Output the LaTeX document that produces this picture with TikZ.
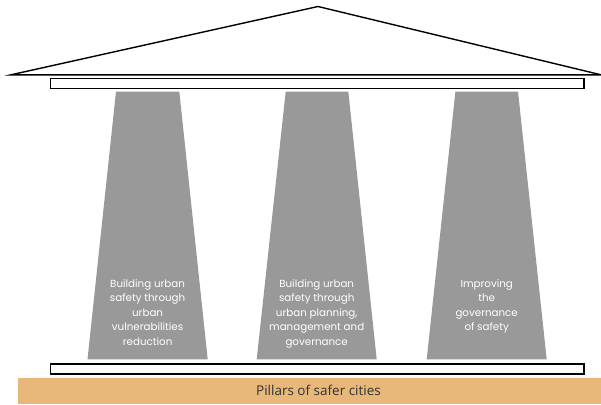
\documentclass[tikz,border=0pt]{standalone}
\usepackage{fontspec}
\setmainfont{Open Sans}
\newfontfamily\pillarfont{Poppins}
\definecolor{pillargray}{RGB}{153,153,153}
\definecolor{baseorange}{RGB}{232,184,122}
\begin{document}
\begin{tikzpicture}[x=1pt,y=-1pt,
  roofline/.style={draw=black,line width=1.4pt,line join=miter},
  beam/.style={draw=black,fill=white,line width=1.4pt},
  pillar/.style={fill=pillargray},
  pillartext/.style={text=white,align=center,anchor=north,inner sep=0pt,font=\pillarfont\fontsize{10.3}{14.5}\selectfont},
  bandtext/.style={text=black!80,anchor=base,inner sep=0pt,font=\fontsize{13.5}{15}\selectfont}]
\useasboundingbox (0,0) rectangle (601,404);
% roof
\coordinate (apex) at (318,6.5);
\coordinate (roofL) at (11,74.8);
\coordinate (roofR) at (601,74.8);
\draw[roofline] (roofL) -- (apex) -- (roofR) -- cycle;
% top beam
\draw[beam] (50.5,78.2) rectangle (584,88.3);
% pillars
\fill[pillar] (116,91.5) -- (179.3,91.5) -- (207.7,359.3) -- (87.5,359.3) -- cycle;
\fill[pillar] (285.7,91.5) -- (348.3,91.5) -- (376.7,359.3) -- (256.7,359.3) -- cycle;
\fill[pillar] (455.4,91.5) -- (518,91.5) -- (546.7,359.3) -- (426.7,359.3) -- cycle;
\node[pillartext] (p1) at (147.6,279) {Building urban\\safety through\\urban\\vulnerabilities\\reduction};
\node[pillartext] (p2) at (316.7,279) {Building urban\\safety through\\urban planning,\\management and\\governance};
\node[pillartext] (p3) at (486.7,279) {Improving\\the\\governance\\of safety};
% bottom beam
\draw[beam] (50.5,363.8) rectangle (584,374);
% band
\fill[baseorange] (18,377.8) rectangle (601,404);
\node[bandtext] (band) at (318.5,395.7) {Pillars of safer cities};
\end{tikzpicture}
\end{document}
